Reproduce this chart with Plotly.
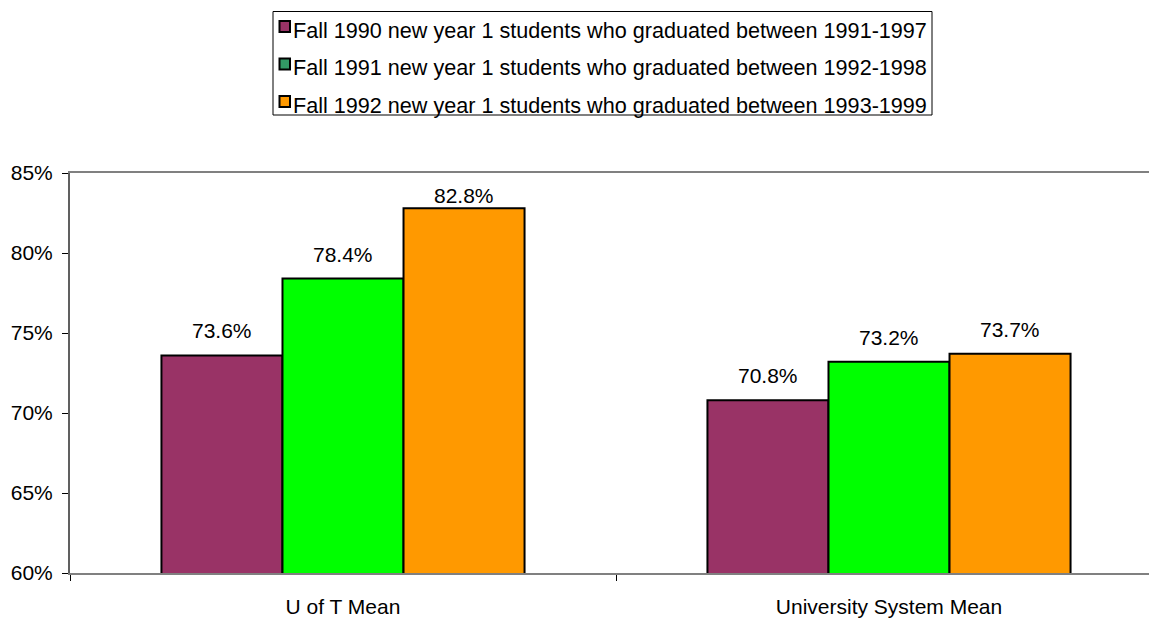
import plotly.graph_objects as go

categories = ["U of T Mean", "University System Mean"]
series_names = [
    "Fall 1990 new year 1 students who graduated between 1991-1997",
    "Fall 1991 new year 1 students who graduated between 1992-1998",
    "Fall 1992 new year 1 students who graduated between 1993-1999",
]
values_1990 = [73.6, 70.8]
values_1991 = [78.4, 73.2]
values_1992 = [82.8, 73.7]
series_values = [values_1990, values_1991, values_1992]

bar_colors = ["#993366", "#00FF00", "#FF9900"]
legend_colors = ["#993366", "#339966", "#FF9900"]
FONT = "Liberation Sans, Arial, sans-serif"

W, H = 1149, 619
L, R, T, B = 70, 0, 173, 46
PW, PH = W - L - R, H - T - B
Y0, Y1 = 60, 85

def px_x(px):
    return (px - L) / PW

def px_y(py):
    return (H - B - py) / PH

fig = go.Figure()
for name, vals, col in zip(series_names, series_values, bar_colors):
    fig.add_trace(go.Bar(
        x=categories, y=vals, name=name, showlegend=False,
        marker=dict(color=col, line=dict(color="black", width=2)),
        hoverinfo="x+y",
    ))

bar_w = (1 - 0.335) / 3
annotations = []
for i, vals in enumerate(series_values):
    off = (i - 1) * bar_w
    for c, v in enumerate(vals):
        # keep label inside plot area (labels near the top are pushed down)
        bar_top_px = T + (Y1 - v) * PH / (Y1 - Y0)
        shift = 11
        if bar_top_px - shift - 27 < T + 9:
            shift = bar_top_px - (T + 9 + 27)
        annotations.append(dict(
            x=c + off, y=v, xref="x", yref="y", text=f"{v:.1f}%",
            showarrow=False, yanchor="bottom", xanchor="center", yshift=shift,
            font=dict(family=FONT, size=21, color="black"),
        ))

# manual legend
shapes = [dict(type="rect", xref="paper", yref="paper",
               x0=px_x(273), x1=px_x(932), y0=px_y(115), y1=px_y(11.5),
               line=dict(color="black", width=1), fillcolor="white")]
row_swatch = [26.5, 64, 101.5]
row_text = [30, 67.5, 105]
for name, col, ys, yt in zip(series_names, legend_colors, row_swatch, row_text):
    shapes.append(dict(type="rect", xref="paper", yref="paper",
                       x0=px_x(279.5), x1=px_x(290), y0=px_y(ys + 5.5), y1=px_y(ys - 5.5),
                       line=dict(color="black", width=2), fillcolor=col))
    annotations.append(dict(
        x=px_x(290.5), y=px_y(yt), xref="paper", yref="paper", text=name,
        showarrow=False, xanchor="left", yanchor="middle",
        font=dict(family=FONT, size=21.6, color="black"),
    ))

fig.update_layout(
    width=W, height=H,
    margin=dict(l=L, r=R, t=T, b=B, pad=0),
    paper_bgcolor="white", plot_bgcolor="white",
    barmode="group", bargap=0.335, bargroupgap=0,
    showlegend=False,
    font=dict(family=FONT, size=21, color="black"),
    shapes=shapes, annotations=annotations,
)
fig.update_xaxes(
    type="category", range=[-0.5, -0.5 + PW / 546.0],
    showline=True, linecolor="#808080", linewidth=2, mirror=True,
    ticks="outside", tickson="boundaries", ticklen=6, tickcolor="black", tickwidth=1,
    ticklabelstandoff=14,
    showgrid=False, zeroline=False,
    tickfont=dict(family=FONT, size=21, color="black"),
)
fig.update_yaxes(
    range=[Y0, Y1], dtick=5, tick0=60, ticksuffix="%",
    showline=True, linecolor="#606060", linewidth=2,
    ticks="outside", ticklen=6, tickcolor="black", tickwidth=1,
    ticklabelstandoff=5,
    showgrid=False, zeroline=False,
    tickfont=dict(family=FONT, size=21, color="black"),
)

fig.write_html("out.html", config={"displayModeBar": False},
               post_script="document.body.style.margin='0';document.body.style.overflow='hidden';")
